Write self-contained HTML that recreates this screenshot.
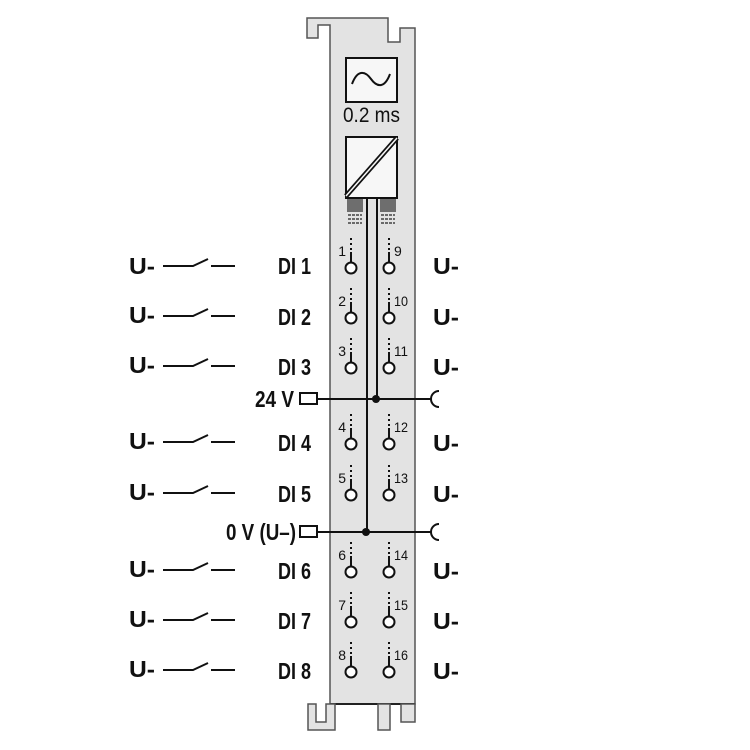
<!DOCTYPE html>
<html><head><meta charset="utf-8"><style>
html,body{margin:0;padding:0;background:#fff}
svg{display:block}
text{font-family:"Liberation Sans",sans-serif;fill:#111}
.l{font-size:23px;font-weight:bold}
.n{font-size:14px}
</style></head><body>
<svg width="750" height="750" viewBox="0 0 750 750" xmlns="http://www.w3.org/2000/svg">
<path d="M307,18 H388 V42 H400 V28 H415 V704 H330 V25 H318 V38 H307 Z" fill="#e3e3e3" stroke="#555" stroke-width="1.5"/>
<line x1="330" y1="704" x2="415" y2="704" stroke="#222" stroke-width="2"/>
<path d="M308,704 V730 H335 V704 H326 V722 H316 V704 Z" fill="#e3e3e3" stroke="#555" stroke-width="1.5"/>
<rect x="378" y="704" width="12" height="26" fill="#e3e3e3" stroke="#555" stroke-width="1.5"/>
<rect x="401" y="704" width="14" height="18" fill="#e3e3e3" stroke="#555" stroke-width="1.5"/>
<rect x="346" y="58" width="51" height="44" fill="#f7f7f7" stroke="#111" stroke-width="2"/>
<path d="M352,84 C358,68 366,72 371,79 C376,86 384,90 390,74" fill="none" stroke="#111" stroke-width="2"/>
<text x="343" y="122" textLength="57" lengthAdjust="spacingAndGlyphs" style="font-size:21px">0.2 ms</text>
<rect x="346" y="137" width="51" height="61" fill="#f7f7f7" stroke="#111" stroke-width="2"/>
<line x1="346" y1="196" x2="397" y2="138" stroke="#111" stroke-width="5"/>
<line x1="346" y1="196" x2="397" y2="138" stroke="#f7f7f7" stroke-width="1.5"/>
<g stroke="#222" stroke-width="1.2">
<path d="M348,199V212 M350,199V212 M352,199V212 M354,199V212 M356,199V212 M358,199V212 M360,199V212 M362,199V212"/>
<path d="M381,199V212 M383,199V212 M385,199V212 M387,199V212 M389,199V212 M391,199V212 M393,199V212 M395,199V212"/>
<path d="M348,215H362 M348,219H362 M348,223H362 M381,215H395 M381,219H395 M381,223H395" stroke-dasharray="3,1"/>
</g>
<line x1="367" y1="198" x2="367" y2="532" stroke="#111" stroke-width="2"/>
<line x1="377" y1="198" x2="377" y2="399" stroke="#111" stroke-width="2"/>
<g stroke="#111" stroke-width="2" fill="none">
<rect x="300" y="393" width="17" height="11" fill="#fff"/>
<line x1="317" y1="399" x2="432" y2="399"/>
<path d="M439,391 A8,8 0 0 0 439,407"/>
<rect x="300" y="526" width="17" height="11" fill="#fff"/>
<line x1="317" y1="532" x2="432" y2="532"/>
<path d="M439,524 A8,8 0 0 0 439,540"/>
</g>
<circle cx="376" cy="399" r="4" fill="#111"/>
<circle cx="366" cy="532" r="4" fill="#111"/>
<text class="l" x="255" y="407" textLength="39" lengthAdjust="spacingAndGlyphs">24 V</text>
<text class="l" x="226" y="540" textLength="70" lengthAdjust="spacingAndGlyphs">0 V (U–)</text>
<defs>
<g id="c">
<path d="M0,-30V-28 M0,-25V-23 M0,-20V-18" stroke="#111" stroke-width="2"/>
<line x1="0" y1="-16" x2="0" y2="-6" stroke="#111" stroke-width="2"/>
<circle cx="0" cy="0" r="5.5" fill="#fff" stroke="#111" stroke-width="2"/>
</g>
<g id="sw" stroke="#111" stroke-width="2" fill="none">
<path d="M163,0H193 L208,-7 M211,0H235"/>
</g>
<text id="u" class="l" textLength="26" lengthAdjust="spacingAndGlyphs">U-</text>
</defs>
<g>
<use href="#c" x="351" y="268"/><use href="#c" x="389" y="268"/>
<use href="#c" x="351" y="318"/><use href="#c" x="389" y="318"/>
<use href="#c" x="351" y="368"/><use href="#c" x="389" y="368"/>
<use href="#c" x="351" y="444"/><use href="#c" x="389" y="444"/>
<use href="#c" x="351" y="495"/><use href="#c" x="389" y="495"/>
<use href="#c" x="351" y="572"/><use href="#c" x="389" y="572"/>
<use href="#c" x="351" y="622"/><use href="#c" x="389" y="622"/>
<use href="#c" x="351" y="672"/><use href="#c" x="389" y="672"/>
</g>
<g class="n" text-anchor="end">
<text x="346" y="256">1</text><text x="346" y="306">2</text><text x="346" y="356">3</text>
<text x="346" y="432">4</text><text x="346" y="483">5</text><text x="346" y="560">6</text>
<text x="346" y="610">7</text><text x="346" y="660">8</text>
</g>
<g class="n">
<text x="394" y="256">9</text><text x="394" y="306" textLength="14" lengthAdjust="spacingAndGlyphs">10</text><text x="394" y="356" textLength="14" lengthAdjust="spacingAndGlyphs">11</text>
<text x="394" y="432" textLength="14" lengthAdjust="spacingAndGlyphs">12</text><text x="394" y="483" textLength="14" lengthAdjust="spacingAndGlyphs">13</text><text x="394" y="560" textLength="14" lengthAdjust="spacingAndGlyphs">14</text>
<text x="394" y="610" textLength="14" lengthAdjust="spacingAndGlyphs">15</text><text x="394" y="660" textLength="14" lengthAdjust="spacingAndGlyphs">16</text>
</g>
<g class="l">
<text x="129" y="274" textLength="26" lengthAdjust="spacingAndGlyphs">U-</text><text x="278" y="274" textLength="33" lengthAdjust="spacingAndGlyphs">DI 1</text><text x="433" y="274" textLength="26" lengthAdjust="spacingAndGlyphs">U-</text>
<text x="129" y="323" textLength="26" lengthAdjust="spacingAndGlyphs">U-</text><text x="278" y="325" textLength="33" lengthAdjust="spacingAndGlyphs">DI 2</text><text x="433" y="325" textLength="26" lengthAdjust="spacingAndGlyphs">U-</text>
<text x="129" y="373" textLength="26" lengthAdjust="spacingAndGlyphs">U-</text><text x="278" y="375" textLength="33" lengthAdjust="spacingAndGlyphs">DI 3</text><text x="433" y="375" textLength="26" lengthAdjust="spacingAndGlyphs">U-</text>
<text x="129" y="449" textLength="26" lengthAdjust="spacingAndGlyphs">U-</text><text x="278" y="451" textLength="33" lengthAdjust="spacingAndGlyphs">DI 4</text><text x="433" y="451" textLength="26" lengthAdjust="spacingAndGlyphs">U-</text>
<text x="129" y="500" textLength="26" lengthAdjust="spacingAndGlyphs">U-</text><text x="278" y="502" textLength="33" lengthAdjust="spacingAndGlyphs">DI 5</text><text x="433" y="502" textLength="26" lengthAdjust="spacingAndGlyphs">U-</text>
<text x="129" y="577" textLength="26" lengthAdjust="spacingAndGlyphs">U-</text><text x="278" y="579" textLength="33" lengthAdjust="spacingAndGlyphs">DI 6</text><text x="433" y="579" textLength="26" lengthAdjust="spacingAndGlyphs">U-</text>
<text x="129" y="627" textLength="26" lengthAdjust="spacingAndGlyphs">U-</text><text x="278" y="629" textLength="33" lengthAdjust="spacingAndGlyphs">DI 7</text><text x="433" y="629" textLength="26" lengthAdjust="spacingAndGlyphs">U-</text>
<text x="129" y="677" textLength="26" lengthAdjust="spacingAndGlyphs">U-</text><text x="278" y="679" textLength="33" lengthAdjust="spacingAndGlyphs">DI 8</text><text x="433" y="679" textLength="26" lengthAdjust="spacingAndGlyphs">U-</text>
</g>
<use href="#sw" y="266"/><use href="#sw" y="316"/><use href="#sw" y="366"/>
<use href="#sw" y="442"/><use href="#sw" y="493"/><use href="#sw" y="570"/>
<use href="#sw" y="620"/><use href="#sw" y="670"/>
</svg>
</body></html>
